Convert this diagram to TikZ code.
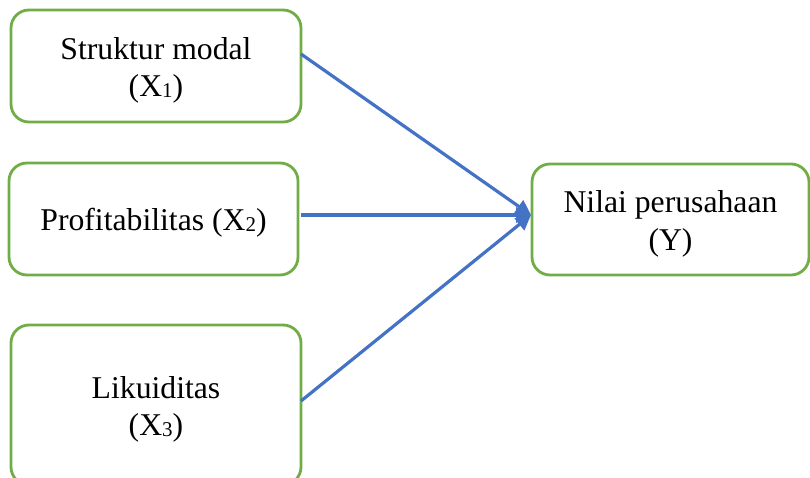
\documentclass[tikz,border=0pt]{standalone}
\usepackage{fontspec}
\setmainfont{Liberation Serif}
\usetikzlibrary{arrows.meta}
\definecolor{boxgreen}{HTML}{70AD47}
\definecolor{arrowblue}{HTML}{4472C4}
\newcommand\subdig[1]{\raisebox{-1pt}{\fontsize{21}{21}\selectfont #1}}
\begin{document}
\begin{tikzpicture}[x=1pt,y=-1pt,
  varbox/.style={draw=boxgreen, line width=2.8pt, rounded corners=18pt, fill=white,
    align=center, inner sep=0pt, font=\fontsize{31.7}{37}\selectfont},
  link/.style={draw=arrowblue, line width=3.2pt, -{Triangle[length=15pt,width=15pt]}}]
\useasboundingbox (0,0) rectangle (810,478);
\node[varbox, minimum width=290pt, minimum height=112pt, text height=69pt, text depth=7pt] (x1) at (156,66) {Struktur modal\\(X\subdig{1})};
\node[varbox, minimum width=289pt, minimum height=112pt, text height=22pt, text depth=0pt] (x2) at (153.5,219) {Profitabilitas (X\subdig{2})};
\node[varbox, minimum width=290pt, minimum height=160pt, text height=67pt, text depth=7pt] (x3) at (156,405) {Likuiditas\\(X\subdig{3})};
\node[varbox, minimum width=277pt, minimum height=111pt, text height=68pt, text depth=7pt] (y) at (670.5,219.5) {Nilai perusahaan\\(Y)};
\coordinate (s1) at (301,54);
\coordinate (s2) at (301,215);
\coordinate (s3) at (301,401);
\coordinate (tip) at (531,215);
\draw[link] (s1) -- (tip);
\draw[link] (s2) -- (tip);
\draw[link] (s3) -- (tip);
\end{tikzpicture}
\end{document}
